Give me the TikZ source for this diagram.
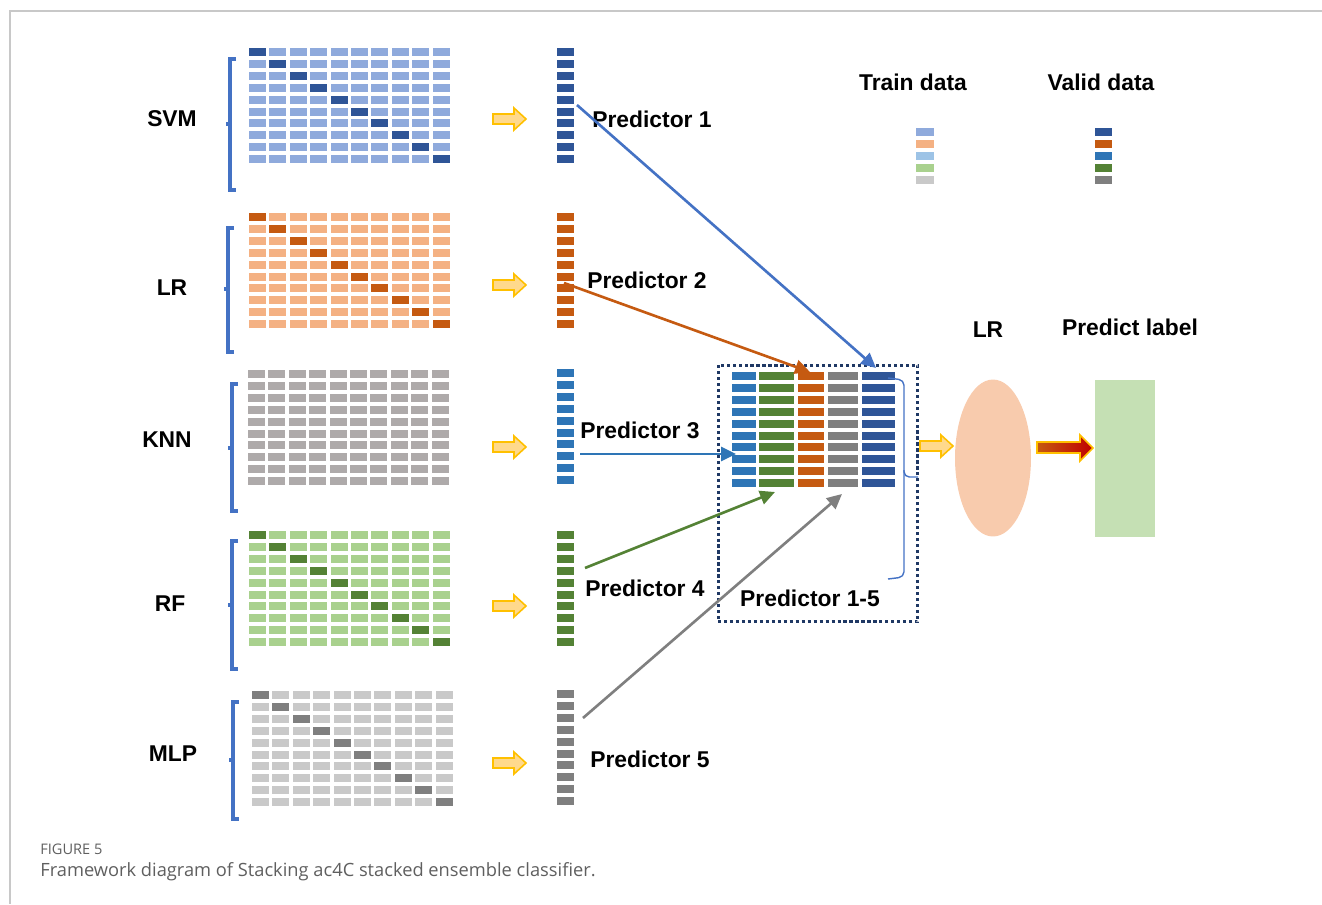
\documentclass[tikz,border=0pt]{standalone}
\usepackage{fontspec}
\setmainfont{Liberation Sans}
\newfontfamily\capfont{Open Sans}
\usetikzlibrary{arrows.meta, shapes.geometric}

\definecolor{svmlight}{RGB}{143,170,220}
\definecolor{svmdark}{RGB}{47,85,151}
\definecolor{lrlight}{RGB}{244,177,131}
\definecolor{lrdark}{RGB}{197,90,17}
\definecolor{knnlight}{RGB}{174,170,170}
\definecolor{knndark}{RGB}{46,117,182}
\definecolor{knntrain}{RGB}{157,195,230}
\definecolor{rflight}{RGB}{169,209,142}
\definecolor{rfdark}{RGB}{84,130,53}
\definecolor{mlplight}{RGB}{201,201,201}
\definecolor{mlpdark}{RGB}{127,127,127}
\definecolor{bracecol}{RGB}{68,114,196}
\definecolor{boxcol}{RGB}{31,56,100}
\definecolor{arrfill}{RGB}{255,217,140}
\definecolor{arrline}{RGB}{255,192,0}
\definecolor{lrfill}{RGB}{248,203,173}
\definecolor{labelfill}{RGB}{197,224,180}
\definecolor{redtip}{RGB}{192,0,0}
\definecolor{framecol}{RGB}{200,200,200}
\definecolor{captext}{RGB}{95,95,95}

\tikzset{
  lbl/.style={font=\bfseries\fontsize{13}{15}\selectfont, inner sep=0pt},
  brace/.style={bracecol, line width=1.8pt},
  fatarr/.style={fill=arrfill, draw=arrline, line width=0.9pt, line join=miter},
  predarr/.style={line width=1.5pt, -{Triangle[length=8.5pt,width=8pt]}},
  dotbox/.style={draw=boxcol, line width=1.7pt, dash pattern=on 1.8pt off 1.6pt, inner sep=0pt}
}

% 10x10 block of cells, dark cells on the diagonal
\newcommand{\cellgrid}[4]{%
  \foreach \ci in {0,...,9}{\foreach \ri in {0,...,9}{\fill[#3] ({#1+\ci*20.4},{#2+\ri*11.9}) rectangle ++(17,8);}}
  \foreach \k in {0,...,9}{\fill[#4] ({#1+\k*20.4},{#2+\k*11.9}) rectangle ++(17,8);}}
% one column of predictions
\newcommand{\predcol}[3]{\foreach \k in {0,...,9}{\fill[#3] (#1,{#2+\k*11.9}) rectangle ++(17,8);}}
% square bracket with tick on the left
\newcommand{\leftbrace}[4]{\draw[brace] ({#1+6},#2) -- (#1,#2) -- (#1,#3) -- ({#1+6},#3); \draw[brace] (#1,#4) -- ({#1-4},#4);}
% yellow block arrow from a tail point
\newcommand{\fatarrow}[1]{\draw[fatarr] (#1) ++(0,-5) -- ++(21,0) -- ++(0,-6) -- ++(12,11) -- ++(-12,11) -- ++(0,-6) -- ++(-21,0) -- cycle;}

\begin{document}
\begin{tikzpicture}[x=0.02cm, y=-0.02cm]
\useasboundingbox (0,0) rectangle (1322,904);
\draw[framecol, line width=0.6pt] (1322,11) -- (10,11) -- (10,904); %frame

% base models
\cellgrid{249}{48}{svmlight}{svmdark}   \leftbrace{230}{59}{190}{124}
\cellgrid{249}{213}{lrlight}{lrdark}    \leftbrace{228}{228}{352}{289}
\cellgrid{248}{370}{knnlight}{knnlight} \leftbrace{232}{384}{511}{448}
\cellgrid{249}{531}{rflight}{rfdark}    \leftbrace{232}{541}{669}{605}
\cellgrid{252}{691}{mlplight}{mlpdark}  \leftbrace{233}{702}{819}{760}

\node[lbl] (svm) at (172,119) {SVM};
\node[lbl] (lr)  at (172,288) {LR};
\node[lbl] (knn) at (167,440) {KNN};
\node[lbl] (rf)  at (170,604) {RF};
\node[lbl] (mlp) at (173,754) {MLP};

\coordinate (a1) at (493,119); \fatarrow{a1}
\coordinate (a2) at (493,285); \fatarrow{a2}
\coordinate (a3) at (493,447); \fatarrow{a3}
\coordinate (a4) at (493,606); \fatarrow{a4}
\coordinate (a5) at (493,763); \fatarrow{a5}

% predictions
\predcol{557}{48}{svmdark}
\predcol{557}{213}{lrdark}
\predcol{557}{369}{knndark}
\predcol{557}{531}{rfdark}
\predcol{557}{690}{mlpdark}

\node[lbl] (pred1) at (652,119) {Predictor 1};
\node[lbl] (pred2) at (647,280) {Predictor 2};
\node[lbl] (pred3) at (640,430) {Predictor 3};
\node[lbl] (pred4) at (645,588) {Predictor 4};
\node[lbl] (pred5) at (650,759) {Predictor 5};

% stacked predictions
\node[dotbox, minimum width=4cm, minimum height=5.14cm] (stack) at (818,493.5) {};
\foreach \cx/\cw/\cc in {732/24/knndark, 759/35/rfdark, 798/26/lrdark, 828/30/mlpdark, 862/33/svmdark}
  \foreach \k in {0,...,9}{\fill[\cc] (\cx,{372+\k*11.9}) rectangle ++(\cw,8);}
\draw[bracecol, line width=0.8pt, rounded corners=3pt] (888,378) -- (904,380) -- (904,477) -- (918,477);
\draw[bracecol, line width=0.8pt, rounded corners=3pt] (904,470) -- (904,577) -- (888,579);
\node[lbl] (pred15) at (810,598) {Predictor 1-5};

\coordinate (p1a) at (577,105); \coordinate (p1b) at (876,368);
\coordinate (p2a) at (564,283); \coordinate (p2b) at (810,372);
\coordinate (p3a) at (580,454); \coordinate (p3b) at (736,454);
\coordinate (p4a) at (585,568); \coordinate (p4b) at (775,492);
\coordinate (p5a) at (583,718); \coordinate (p5b) at (842,494);
\draw[predarr, bracecol] (p1a) -- (p1b);
\draw[predarr, lrdark]   (p2a) -- (p2b);
\draw[predarr, knndark]  (p3a) -- (p3b);
\draw[predarr, rfdark]   (p4a) -- (p4b);
\draw[predarr, mlpdark]  (p5a) -- (p5b);

% meta learner
\coordinate (a6) at (920,446); \fatarrow{a6}
\node[ellipse, fill=lrfill, minimum width=1.52cm, minimum height=3.14cm, inner sep=0pt] (lrm) at (993,458) {};
\node[lbl] (lrtitle) at (988,330) {LR};
\draw[left color=lrdark, right color=redtip, draw=arrline, line width=0.9pt]
  (1037,442) -- (1080,442) -- (1080,435) -- (1093,448) -- (1080,461) -- (1080,453) -- (1037,453) -- cycle;
\node[fill=labelfill, minimum width=1.2cm, minimum height=3.14cm, inner sep=0pt] (out) at (1125,458.5) {};
\node[lbl] (outtitle) at (1130,327) {Predict label};

% legend
\node[lbl] (train) at (913,82) {Train data};
\node[lbl] (valid) at (1101,82) {Valid data};
\foreach \cc [count=\i from 0] in {svmlight, lrlight, knntrain, rflight, mlplight}
  \fill[\cc] (916,{128+\i*12}) rectangle ++(18,8);
\foreach \cc [count=\i from 0] in {svmdark, lrdark, knndark, rfdark, mlpdark}
  \fill[\cc] (1095,{128+\i*12}) rectangle ++(17,8);

% caption
\node[anchor=west, inner sep=0pt, text=captext, font=\capfont\fontsize{8.3}{10}\selectfont] (fig) at (40,849) {FIGURE 5};
\node[anchor=west, inner sep=0pt, text=captext, font=\capfont\fontsize{10.4}{12}\selectfont] (cap) at (40,872) {Framework diagram of Stacking ac4C stacked ensemble classifier.};
\end{tikzpicture}
\end{document}
